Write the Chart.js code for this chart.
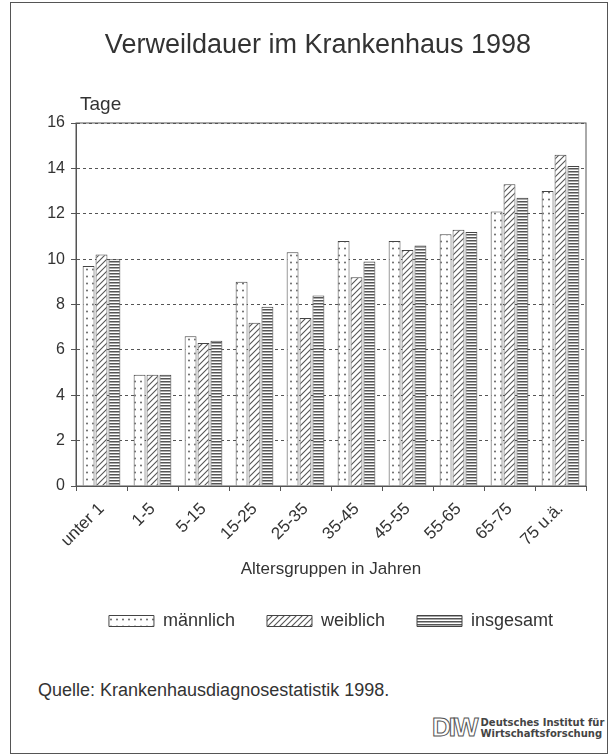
<!DOCTYPE html>
<html lang="de">
<head>
  <meta charset="UTF-8">
  <title>Verweildauer im Krankenhaus 1998</title>
  <script src="https://cdn.jsdelivr.net/npm/chart.js"></script>
  <style>
    body { margin: 0; background: #fff; font-family: "Liberation Sans", Arial, sans-serif; color: #333; }
    #rahmen { position: absolute; left: 10px; top: 2px; width: 596px; height: 750px; border: 1px solid #555; }
    #titel { position: absolute; left: 0; width: 636px; top: 29px; text-align: center; font-size: 27px; }
    #tage { position: absolute; left: 80px; top: 93px; font-size: 19px; }
    #box { position: absolute; left: 0; top: 0; width: 614px; height: 640px; }
    #quelle { position: absolute; left: 38px; top: 680px; font-size: 18px; }
    #logo { position: absolute; left: 432px; top: 712px; }
    #logo .diw { font: bold 26px "Liberation Sans", Arial, sans-serif; color: #fff; -webkit-text-stroke: 1px #555; letter-spacing: -2px; vertical-align: middle; }
    #logo .name { display: inline-block; vertical-align: middle; font: bold 10px "DejaVu Sans", sans-serif; line-height: 11px; color: #444; margin-left: 4px; }
  </style>
</head>
<body>
  <div id="rahmen"></div>
  <div id="box"><canvas id="grafik"></canvas></div>
  <div id="titel">Verweildauer im Krankenhaus 1998</div>
  <div id="tage">Tage</div>
  <div id="quelle">Quelle: Krankenhausdiagnosestatistik 1998.</div>
  <div id="logo"><span class="diw">DIW</span><span class="name">Deutsches Institut für<br>Wirtschaftsforschung</span></div>

  <script>
    // Altersgruppen und Verweildauer in Tagen
    const gruppen = ['unter 1', '1-5', '5-15', '15-25', '25-35', '35-45', '45-55', '55-65', '65-75', '75 u.ä.'];
    const maennlich = [9.7, 4.9, 6.6, 9.0, 10.3, 10.8, 10.8, 11.1, 12.1, 13.0];
    const weiblich = [10.2, 4.9, 6.3, 7.2, 7.4, 9.2, 10.4, 11.3, 13.3, 14.6];
    const insgesamt = [10.0, 4.9, 6.4, 7.9, 8.4, 9.9, 10.6, 11.2, 12.7, 14.1];
    const yTicks = [0, 2, 4, 6, 8, 10, 12, 14, 16];

    // Muster fuer die Balken
    function muster(art) {
      const c = document.createElement('canvas');
      const g = c.getContext('2d');
      if (art === 'punkte') {
        c.width = 6; c.height = 7;
        g.fillStyle = '#fff'; g.fillRect(0, 0, 6, 7);
        g.fillStyle = '#666';
        g.beginPath(); g.arc(3, 3.5, 1, 0, Math.PI * 2); g.fill();
      } else if (art === 'schraeg') {
        c.width = 6; c.height = 6;
        g.fillStyle = '#fff'; g.fillRect(0, 0, 6, 6);
        g.strokeStyle = '#555'; g.lineWidth = 1.1;
        g.beginPath();
        g.moveTo(0, 6); g.lineTo(6, 0);
        g.moveTo(-3, 3); g.lineTo(3, -3);
        g.moveTo(3, 9); g.lineTo(9, 3);
        g.stroke();
      } else {
        c.width = 4; c.height = 3;
        g.fillStyle = '#fff'; g.fillRect(0, 0, 4, 3);
        g.fillStyle = '#555'; g.fillRect(0, 0, 4, 1.5);
      }
      return g.createPattern(c, 'repeat');
    }

    // durchgezogener Rahmen um die Zeichenflaeche
    const rahmenPlugin = {
      id: 'rahmenPlugin',
      afterDraw(chart) {
        const a = chart.chartArea, ctx = chart.ctx;
        ctx.save();
        ctx.strokeStyle = '#555';
        ctx.lineWidth = 1;
        ctx.strokeRect(a.left, a.top, a.right - a.left, a.bottom - a.top);
        ctx.restore();
      }
    };

    const schrift = 'Liberation Sans';

    new Chart(document.getElementById('grafik'), {
      type: 'bar',
      data: {
        labels: gruppen,
        datasets: [
          { label: 'männlich', data: maennlich, backgroundColor: muster('punkte'), borderColor: '#444', borderWidth: 1 },
          { label: 'weiblich', data: weiblich, backgroundColor: muster('schraeg'), borderColor: '#444', borderWidth: 1 },
          { label: 'insgesamt', data: insgesamt, backgroundColor: muster('streifen'), borderColor: '#444', borderWidth: 1 }
        ]
      },
      options: {
        responsive: true,
        maintainAspectRatio: false,
        animation: false,
        layout: { padding: { left: 20, right: 28, top: 123, bottom: 0 } },
        datasets: { bar: { categoryPercentage: 0.76, barPercentage: 0.92 } },
        plugins: {
          tooltip: { enabled: false },
          legend: {
            position: 'bottom',
            fullSize: false,
            labels: {
              color: '#333',
              font: { family: schrift, size: 18 },
              boxWidth: 45,
              boxHeight: 11,
              padding: 32
            }
          }
        },
        scales: {
          x: {
            afterFit: s => { s.height = 94; },
            grid: { offset: true, drawOnChartArea: false, tickLength: 5, color: '#555' },
            border: { color: '#555' },
            ticks: { color: '#333', font: { family: schrift, size: 17 }, minRotation: 45, maxRotation: 45, padding: 8 },
            title: { display: true, text: 'Altersgruppen in Jahren', color: '#333', font: { family: schrift, size: 17 }, padding: { top: 2, bottom: 0 } }
          },
          y: {
            min: 0,
            max: 16,
            afterFit: s => { s.width = 56; },
            afterBuildTicks: s => { s.ticks = yTicks.map(v => ({ value: v })); },
            grid: { color: '#555', tickLength: 5, tickBorderDash: [] },
            border: { color: '#555', dash: [3, 3] },
            ticks: { color: '#333', font: { family: schrift, size: 16 }, padding: 6 }
          }
        }
      },
      plugins: [rahmenPlugin]
    });
  </script>
</body>
</html>
